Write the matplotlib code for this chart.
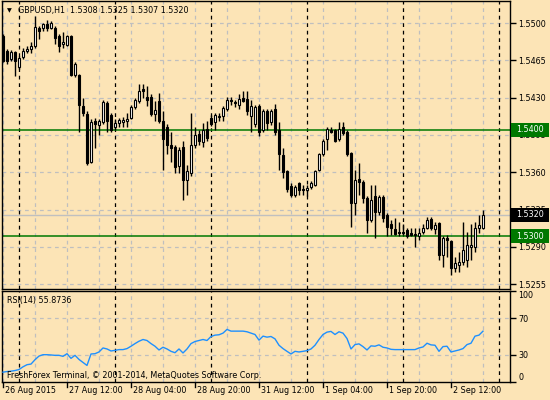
import numpy as np
import matplotlib
matplotlib.use("Agg")
import matplotlib.pyplot as plt
from matplotlib.patches import Rectangle
from matplotlib.transforms import blended_transform_factory

# GBPUSD H1 candles, 26 Aug 2015 20:00 .. 2 Sep 2015 20:00
opens = [1.5488, 1.5474, 1.5466, 1.5473, 1.5459, 1.5468, 1.5474, 1.5476, 1.5478, 1.5495,
         1.5495, 1.5499, 1.5495, 1.5495, 1.5488, 1.5480, 1.5479, 1.5488, 1.5451, 1.5451,
         1.5422, 1.5415, 1.5370, 1.5408, 1.5404, 1.5407, 1.5425, 1.5414, 1.5402, 1.5406,
         1.5407, 1.5408, 1.5411, 1.5421, 1.5427, 1.5438, 1.5431, 1.5431, 1.5415, 1.5427,
         1.5408, 1.5402, 1.5386, 1.5384, 1.5366, 1.5384, 1.5353, 1.5359, 1.5386, 1.5396,
         1.5388, 1.5401, 1.5411, 1.5407, 1.5412, 1.5413, 1.5419, 1.5428, 1.5426, 1.5423,
         1.5430, 1.5429, 1.5413, 1.5405, 1.5422, 1.5400, 1.5417, 1.5407, 1.5419, 1.5400,
         1.5376, 1.5361, 1.5347, 1.5339, 1.5350, 1.5344, 1.5343, 1.5346, 1.5348, 1.5362,
         1.5377, 1.5391, 1.5400, 1.5400, 1.5391, 1.5402, 1.5398, 1.5378, 1.5331, 1.5354,
         1.5351, 1.5336, 1.5315, 1.5338, 1.5323, 1.5337, 1.5320, 1.5311, 1.5307, 1.5304,
         1.5304, 1.5306, 1.5303, 1.5302, 1.5300, 1.5304, 1.5308, 1.5316, 1.5307, 1.5312,
         1.5282, 1.5298, 1.5295, 1.5270, 1.5273, 1.5276, 1.5278, 1.5290, 1.5290, 1.5308,
         1.5308]
highs = [1.5490, 1.5476, 1.5475, 1.5474, 1.5469, 1.5477, 1.5478, 1.5482, 1.5507, 1.5497,
         1.5500, 1.5503, 1.5502, 1.5497, 1.5490, 1.5492, 1.5489, 1.5489, 1.5463, 1.5452,
         1.5430, 1.5417, 1.5410, 1.5411, 1.5410, 1.5428, 1.5427, 1.5416, 1.5410, 1.5411,
         1.5412, 1.5416, 1.5423, 1.5430, 1.5443, 1.5443, 1.5441, 1.5433, 1.5427, 1.5434,
         1.5417, 1.5405, 1.5398, 1.5386, 1.5384, 1.5389, 1.5367, 1.5416, 1.5402, 1.5400,
         1.5406, 1.5408, 1.5414, 1.5416, 1.5416, 1.5422, 1.5431, 1.5431, 1.5428, 1.5433,
         1.5436, 1.5436, 1.5428, 1.5423, 1.5424, 1.5419, 1.5419, 1.5419, 1.5424, 1.5407,
         1.5383, 1.5362, 1.5350, 1.5348, 1.5351, 1.5348, 1.5348, 1.5352, 1.5362, 1.5378,
         1.5391, 1.5402, 1.5402, 1.5401, 1.5407, 1.5407, 1.5400, 1.5379, 1.5362, 1.5369,
         1.5353, 1.5338, 1.5348, 1.5348, 1.5339, 1.5339, 1.5322, 1.5315, 1.5317, 1.5313,
         1.5311, 1.5308, 1.5308, 1.5308, 1.5308, 1.5311, 1.5318, 1.5318, 1.5313, 1.5313,
         1.5300, 1.5301, 1.5296, 1.5280, 1.5285, 1.5313, 1.5304, 1.5311, 1.5313, 1.5320,
         1.5325]
lows = [1.5463, 1.5462, 1.5464, 1.5450, 1.5457, 1.5466, 1.5472, 1.5472, 1.5477, 1.5485,
        1.5493, 1.5493, 1.5494, 1.5480, 1.5473, 1.5477, 1.5478, 1.5450, 1.5449, 1.5398,
        1.5413, 1.5367, 1.5369, 1.5383, 1.5395, 1.5405, 1.5398, 1.5398, 1.5400, 1.5402,
        1.5402, 1.5402, 1.5410, 1.5419, 1.5425, 1.5430, 1.5422, 1.5413, 1.5408, 1.5406,
        1.5362, 1.5377, 1.5370, 1.5359, 1.5359, 1.5334, 1.5339, 1.5356, 1.5383, 1.5386,
        1.5384, 1.5389, 1.5403, 1.5400, 1.5408, 1.5408, 1.5417, 1.5423, 1.5421, 1.5419,
        1.5426, 1.5414, 1.5398, 1.5402, 1.5394, 1.5398, 1.5400, 1.5404, 1.5395, 1.5362,
        1.5355, 1.5341, 1.5337, 1.5337, 1.5339, 1.5339, 1.5338, 1.5344, 1.5347, 1.5361,
        1.5375, 1.5381, 1.5397, 1.5388, 1.5389, 1.5395, 1.5375, 1.5309, 1.5320, 1.5339,
        1.5331, 1.5303, 1.5313, 1.5298, 1.5320, 1.5313, 1.5300, 1.5301, 1.5301, 1.5300,
        1.5301, 1.5298, 1.5300, 1.5290, 1.5296, 1.5302, 1.5307, 1.5306, 1.5302, 1.5278,
        1.5271, 1.5280, 1.5264, 1.5266, 1.5266, 1.5273, 1.5271, 1.5278, 1.5285, 1.5303,
        1.5307]
closes = [1.5464, 1.5464, 1.5473, 1.5464, 1.5467, 1.5474, 1.5476, 1.5478, 1.5496, 1.5493,
          1.5499, 1.5495, 1.5500, 1.5486, 1.5478, 1.5482, 1.5488, 1.5451, 1.5462, 1.5423,
          1.5416, 1.5369, 1.5407, 1.5405, 1.5408, 1.5426, 1.5408, 1.5400, 1.5406, 1.5409,
          1.5409, 1.5410, 1.5421, 1.5428, 1.5436, 1.5436, 1.5428, 1.5415, 1.5418, 1.5408,
          1.5391, 1.5386, 1.5383, 1.5365, 1.5381, 1.5353, 1.5361, 1.5386, 1.5395, 1.5389,
          1.5400, 1.5392, 1.5405, 1.5414, 1.5413, 1.5420, 1.5428, 1.5427, 1.5425, 1.5429,
          1.5427, 1.5417, 1.5422, 1.5421, 1.5398, 1.5417, 1.5406, 1.5417, 1.5398, 1.5377,
          1.5360, 1.5344, 1.5339, 1.5346, 1.5343, 1.5343, 1.5345, 1.5350, 1.5361, 1.5377,
          1.5389, 1.5401, 1.5398, 1.5389, 1.5401, 1.5397, 1.5377, 1.5331, 1.5353, 1.5351,
          1.5336, 1.5315, 1.5334, 1.5323, 1.5337, 1.5317, 1.5309, 1.5308, 1.5302, 1.5303,
          1.5303, 1.5300, 1.5301, 1.5301, 1.5303, 1.5308, 1.5315, 1.5308, 1.5310, 1.5282,
          1.5298, 1.5296, 1.5270, 1.5275, 1.5276, 1.5287, 1.5292, 1.5292, 1.5308, 1.5310,
          1.5320]

# RSI(14)
rsi = [10.8, 11.5, 11.9, 12.6, 13.7, 16.7, 19.0, 19.7, 24.5, 28.5,
       30.0, 30.0, 29.7, 29.3, 29.3, 28.2, 31.1, 26.0, 29.3, 24.8,
       21.5, 18.2, 30.8, 31.1, 33.0, 37.4, 36.3, 34.1, 34.8, 35.6,
       35.6, 36.7, 39.3, 42.2, 44.8, 46.7, 45.6, 42.2, 39.3, 35.2,
       38.2, 36.3, 33.7, 32.2, 36.3, 31.9, 36.3, 42.2, 44.5, 45.6,
       46.7, 45.6, 50.0, 51.5, 51.9, 53.7, 57.8, 55.9, 55.9, 55.9,
       55.9, 55.2, 53.7, 52.2, 46.0, 50.4, 49.3, 50.0, 47.4, 40.4,
       36.7, 33.7, 30.8, 33.7, 33.0, 33.7, 34.5, 36.3, 40.4, 46.7,
       52.2, 54.8, 55.6, 52.2, 55.2, 53.7, 47.8, 36.3, 41.1, 41.9,
       38.9, 35.2, 39.7, 39.3, 40.8, 38.2, 37.4, 35.9, 35.6, 35.6,
       35.6, 35.6, 35.6, 35.6, 37.4, 38.5, 42.6, 40.8, 40.4, 33.7,
       38.9, 39.3, 33.0, 34.1, 35.2, 36.7, 41.1, 42.6, 50.4, 51.5,
       55.8736]

price_ticks = [1.5500, 1.5465, 1.5430, 1.5395, 1.5360, 1.5325, 1.5290, 1.5255]
levels = [1.5400, 1.5300]
time_labels = ["26 Aug 2015", "27 Aug 12:00", "28 Aug 04:00", "28 Aug 20:00",
               "31 Aug 12:00", "1 Sep 04:00", "1 Sep 20:00", "2 Sep 12:00"]
label_bars = [0, 16, 32, 48, 64, 80, 96, 112]
day_start_bars = [4, 28, 52, 76, 100, 124]

bg = "#fce4b6"
grid_c = "#bfbfbf"
green = "#007800"
fs = 5.8

plt.rcParams['font.family'] = "DejaVu Sans"

W, H = 550, 400
fig = plt.figure(figsize=(W / 100, H / 100), dpi=100, facecolor=bg)
ax = fig.add_axes([2 / W, (H - 289) / H, 508 / W, 288 / H], facecolor=bg)
ax2 = fig.add_axes([2 / W, (H - 382) / H, 508 / W, 91 / H], facecolor=bg)

o = np.array(opens); hi = np.array(highs); lo = np.array(lows); c = np.array(closes)
x = np.arange(len(o))

for a in (ax, ax2):
    a.set_xlim(-0.25, 126.75)
    for s in a.spines.values():
        s.set_color("black")
        s.set_linewidth(1)
    a.set_xticks([])
    for b in range(0, 127, 8):
        a.axvline(b, color=grid_c, lw=0.9, ls=(0, (3, 3)), zorder=1)
    for b in day_start_bars:
        a.axvline(b, color="black", lw=0.9, ls=(0, (3, 3)), zorder=1.5)

# price panel
ymin, ymax = 1.52504, 1.55207
ax.set_ylim(ymin, ymax)
for p in price_ticks:
    ax.axhline(p, color=grid_c, lw=0.9, ls=(0, (3, 3)), zorder=1)
for lv in levels:
    ax.axhline(lv, color=green, lw=1.1, zorder=2)
ax.axhline(c[-1], color="#c0c0c0", lw=1, zorder=1.8)

ax.vlines(x, lo, hi, color="black", lw=1, zorder=3)
up = c >= o
body_h = np.abs(c - o)
body_b = np.minimum(o, c)
ax.bar(x[up], body_h[up], bottom=body_b[up], width=0.72, color="white",
       edgecolor="black", linewidth=0.8, zorder=4)
ax.bar(x[~up], body_h[~up], bottom=body_b[~up], width=0.72, color="black",
       edgecolor="black", linewidth=0.8, zorder=4)

ax.yaxis.tick_right()
ax.set_yticks(price_ticks)
ax.set_yticklabels([f"{p:.4f}" for p in price_ticks])
ax.tick_params(axis="y", length=4, width=1, pad=2, labelsize=fs, colors="black")

# price tags on the right scale
tr = blended_transform_factory(ax.transAxes, ax.transData)
px = (ymax - ymin) / 288
box_w = 38 / 508
tags = [(lv, green) for lv in levels] + [(c[-1], "black")]
for val, col in tags:
    ax.add_patch(Rectangle((1 + 1 / 508, val - 7 * px), box_w, 14 * px, transform=tr,
                           facecolor=col, edgecolor="none", clip_on=False, zorder=9))
    ax.text(1 + 6 / 508, val, f"{val:.4f}", transform=tr, ha="left", va="center",
            fontsize=fs, color="white", clip_on=False, zorder=10)

ax.text(5 / 508, 1 - 10 / 288, "\u25bc", transform=ax.transAxes, fontsize=4.5,
        va="center", ha="left")
ax.text(16 / 508, 1 - 10 / 288,
        f"GBPUSD,H1  {o[-1]:.4f} {hi[-1]:.4f} {lo[-1]:.4f} {c[-1]:.4f}",
        transform=ax.transAxes, fontsize=fs, va="center", ha="left")

# RSI panel
ax2.set_ylim(0, 100)
for lv in (70, 30):
    ax2.axhline(lv, color=grid_c, lw=0.9, ls=(0, (3, 3)), zorder=1)
ax2.plot(x, rsi, color="#1e90ff", lw=1, zorder=3)
ax2.yaxis.tick_right()
ax2.set_yticks([100, 70, 30, 0])
ax2.set_yticklabels(["100", "70", "30", "0"])
ax2.tick_params(axis="y", length=4, width=1, pad=2, labelsize=fs, colors="black")
lbls = ax2.get_yticklabels()
lbls[0].set_va("top")
lbls[3].set_va("bottom")
ax2.text(5 / 508, 1 - 9 / 91, f"RSI(14) {rsi[-1]:.4f}", transform=ax2.transAxes,
         fontsize=fs, va="center", ha="left")
ax2.text(5 / 508, 7 / 91, "FreshForex Terminal, \u00a9 2001-2014, MetaQuotes Software Corp.",
         transform=ax2.transAxes, fontsize=fs, va="center", ha="left", zorder=5)

# time axis
for b, lab in zip(label_bars, time_labels):
    ax2.plot([b, b], [-1, -5], color="black", lw=1, clip_on=False)
    ax2.text(b + 0.5, -9, lab, fontsize=fs, ha="left", va="center", clip_on=False)
ax2.set_ylim(0, 100)

fig.savefig("out.png", dpi=100, facecolor=bg)
